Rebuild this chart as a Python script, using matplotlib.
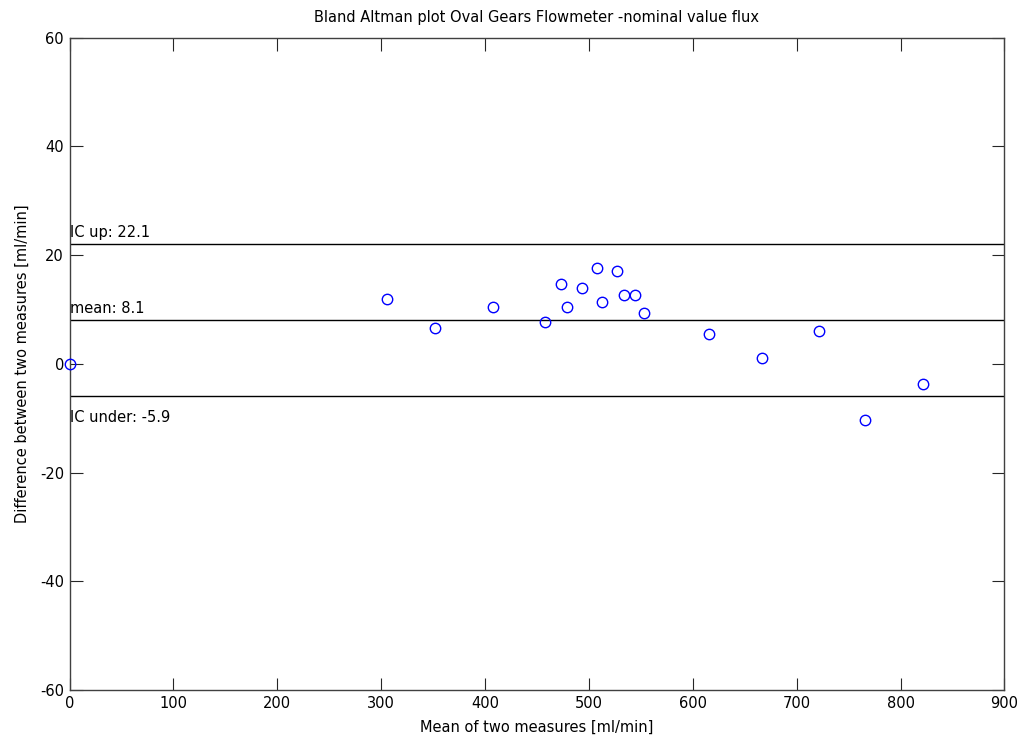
import matplotlib
matplotlib.use("Agg")
import matplotlib.pyplot as plt

mean_vals = [0, 305.3, 351.8, 407.9, 457.7, 473.3, 478.5, 493.0, 507.4, 512.8,
             526.6, 533.4, 544.0, 553.0, 615.5, 666.8, 721.4, 766.0, 821.8]
diff_vals = [0, 11.9, 6.6, 10.4, 7.66, 14.7, 10.4, 14.0, 17.7, 11.4,
             17.0, 12.7, 12.7, 9.4, 5.4, 1.07, 6.1, -10.3, -3.65]
ic_up = 22.1
mean_diff = 8.1
ic_under = -5.9
xticks = [0, 100, 200, 300, 400, 500, 600, 700, 800, 900]
yticks = [-60, -40, -20, 0, 20, 40, 60]

plt.rcParams['font.family'] = ['DejaVu Sans']
plt.rcParams['font.size'] = 10.5
plt.rcParams['axes.unicode_minus'] = False

FS = 10.5
W, H = 1027, 743
fig = plt.figure(figsize=(W / 100, H / 100), dpi=100)
ax = fig.add_axes([69.5 / W, 1 - 690 / H, (1004.5 - 69.5) / W, (690 - 37.7) / H])

ax.plot(mean_vals, diff_vals, 'o', mfc='none', mec='#0000ff', ms=7.5, mew=1.0,
        clip_on=False, zorder=3)
for v in (ic_up, mean_diff, ic_under):
    ax.axhline(v, color='black', lw=1.0)

ax.text(0, ic_up + 2, f'IC up: {ic_up}', va='center', ha='left', fontsize=FS)
ax.text(0, mean_diff + 2, f'mean: {mean_diff}', va='center', ha='left', fontsize=FS)
ax.text(0, ic_under - 4, f'IC under: {ic_under}', va='center', ha='left', fontsize=FS)

ax.set_xlim(0, 900)
ax.set_ylim(-60, 60)
ax.set_xticks(xticks)
ax.set_yticks(yticks)
ax.tick_params(direction='in', length=9, width=0.8, top=True, right=True,
               colors='#262626', labelcolor='black', pad=4, labelsize=FS)
for s in ax.spines.values():
    s.set_color('#404040')
    s.set_linewidth(1.0)

ax.set_title('Bland Altman plot Oval Gears Flowmeter -nominal value flux',
             fontsize=FS, pad=11)
ax.set_xlabel('Mean of two measures [ml/min]', fontsize=FS)
ax.set_ylabel('Difference between two measures [ml/min]', fontsize=FS)
ax.xaxis.set_label_coords(0.5, -(720 - 690) / 652.3)
ax.yaxis.set_label_coords(-(69.5 - 30) / 935, 0.5)

fig.savefig('out.png', dpi=100, facecolor='white')
